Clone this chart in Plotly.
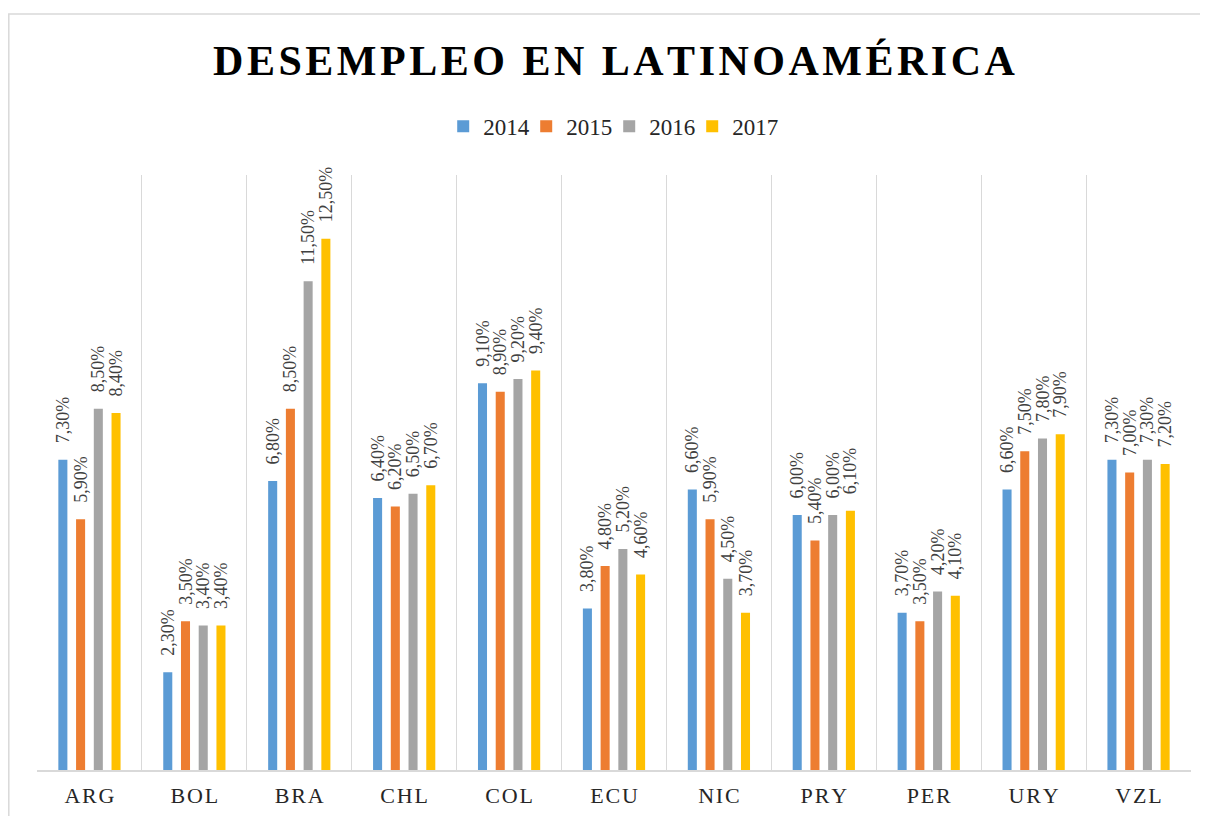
import plotly.graph_objects as go

countries = ["ARG", "BOL", "BRA", "CHL", "COL", "ECU", "NIC", "PRY", "PER", "URY", "VZL"]
years = ["2014", "2015", "2016", "2017"]
v2014 = [7.3, 2.3, 6.8, 6.4, 9.1, 3.8, 6.6, 6.0, 3.7, 6.6, 7.3]
v2015 = [5.9, 3.5, 8.5, 6.2, 8.9, 4.8, 5.9, 5.4, 3.5, 7.5, 7.0]
v2016 = [8.5, 3.4, 11.5, 6.5, 9.2, 5.2, 4.5, 6.0, 4.2, 7.8, 7.3]
v2017 = [8.4, 3.4, 12.5, 6.7, 9.4, 4.6, 3.7, 6.1, 4.1, 7.9, 7.2]
series = [v2014, v2015, v2016, v2017]
colors = ["#5B9BD5", "#ED7D31", "#A5A5A5", "#FFC000"]
title_text = "DESEMPLEO EN LATINOAMÉRICA"

SERIF = "Liberation Serif"
HS = "\u200a"  # hair space for letter spacing
NB = "\u00a0"

def spaced(s, sep):
    return sep.join(list(s))

def fmt(v):
    return NB * 3 + f"{v:.2f}".replace(".", ",") + "%"

fig = go.Figure()
for name, vals, col in zip(years, series, colors):
    fig.add_trace(go.Bar(
        x=[spaced(c, HS) for c in countries],
        y=vals,
        name=name,
        marker=dict(color=col, line=dict(width=0)),
        text=[fmt(v) for v in vals],
        textposition="outside",
        textangle=-90,
        constraintext="none",
        cliponaxis=False,
        textfont=dict(family=SERIF, size=18, color="#404040"),
        hoverinfo="skip",
    ))

# empty legend slot so the last legend label is not clipped
fig.add_trace(go.Scatter(x=[None], y=[None], mode="markers", name=" ",
                         marker=dict(color="rgba(0,0,0,0)"), hoverinfo="skip"))

# page body has an 8px margin, so offsets are 8px smaller
L, T, PW, PH = 29, 167, 1154, 595
fig.update_layout(
    width=1208, height=816,
    margin=dict(l=L, r=1208 - L - PW, t=T, b=816 - T - PH),
    paper_bgcolor="white", plot_bgcolor="white",
    font=dict(family=SERIF),
    barmode="group", bargap=0.324, bargroupgap=0.49,
    title=dict(
        text="<b>" + spaced(title_text, HS) + "</b>",
        font=dict(family=SERIF, size=42, color="#000000"),
        x=0.5, xref="paper", xanchor="center",
        y=1 - 52 / 816, yref="container", yanchor="middle",
    ),
    legend=dict(
        orientation="h", x=0.352, xanchor="left", y=1.082, yanchor="middle",
        font=dict(family=SERIF, size=23, color="#262626"),
        traceorder="normal", entrywidth=38, bgcolor="rgba(0,0,0,0)",
    ),
    xaxis=dict(
        tickson="boundaries", showgrid=True, gridcolor="#D9D9D9", gridwidth=1,
        showline=True, linecolor="#D9D9D9", linewidth=2,
        ticks="", tickfont=dict(family=SERIF, size=22, color="#262626"),
        ticklabelstandoff=5,
        fixedrange=True,
    ),
    yaxis=dict(range=[0, 14], visible=False, showgrid=False, zeroline=False),
    showlegend=True,
)

fig.add_shape(type="rect", xref="paper", yref="paper",
              x0=(0.8 - L) / PW, x1=(1230 - L) / PW,
              y0=(T + PH - 840) / PH, y1=(T + PH - 6) / PH,
              line=dict(color="#D9D9D9", width=1.5), fillcolor="rgba(0,0,0,0)", layer="below")

fig.write_html("out.html")
